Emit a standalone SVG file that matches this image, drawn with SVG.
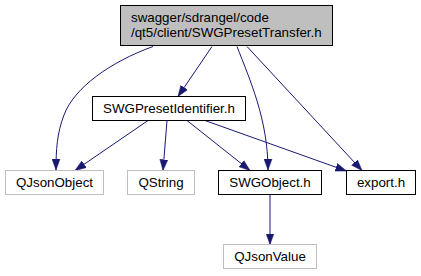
<svg xmlns="http://www.w3.org/2000/svg" width="421" height="276" viewBox="0 0 421 276">
  <style>
    .box { fill: #ffffff; stroke: #000000; stroke-width: 1; }
    .ext { fill: #ffffff; stroke: #bfbfbf; stroke-width: 1; }
    .cur { fill: #bfbfbf; stroke: #000000; stroke-width: 1; }
    text { font-family: "Liberation Sans", Arial, Helvetica, sans-serif; font-size: 13.33px; fill: #000000; }
    .c { text-anchor: middle; }
    .edge { fill: none; stroke: #191970; stroke-width: 1; }
  </style>
  <defs>
    <marker id="arrow" markerUnits="userSpaceOnUse" markerWidth="11" markerHeight="9" refX="11" refY="4.5" orient="auto">
      <path d="M0,0.5 L11,4.5 L0,8.5 z" fill="#191970" stroke="#191970" stroke-width="0.5"/>
    </marker>
  </defs>

  <g id="edges">
    <path class="edge" marker-end="url(#arrow)" d="M153,46.5 C110,62 74,88 64,115 C57,133 56,150 56,170"/>
    <path class="edge" marker-end="url(#arrow)" d="M212,46.5 L178,96.5"/>
    <path class="edge" marker-end="url(#arrow)" d="M237,46.5 C250,80 268,120 268,170"/>
    <path class="edge" marker-end="url(#arrow)" d="M247,46.5 L362,170.5"/>
    <path class="edge" marker-end="url(#arrow)" d="M148,120.5 L75,170.5"/>
    <path class="edge" marker-end="url(#arrow)" d="M167,120.5 L163,170.5"/>
    <path class="edge" marker-end="url(#arrow)" d="M187,120.5 L250,170.5"/>
    <path class="edge" marker-end="url(#arrow)" d="M205,120.5 L346.5,171"/>
    <path class="edge" marker-end="url(#arrow)" d="M270,194.5 L270,244.5"/>
  </g>

  <g id="node_SWGPresetTransfer">
    <rect class="cur" x="120.5" y="5.5" width="212" height="40"/>
    <text x="131" y="21.5">swagger/sdrangel/code</text>
    <text x="131" y="36.5">/qt5/client/SWGPresetTransfer.h</text>
  </g>

  <g id="node_SWGPresetIdentifier">
    <rect class="box" x="92.5" y="96.5" width="153" height="24"/>
    <text class="c" x="169" y="113">SWGPresetIdentifier.h</text>
  </g>

  <g id="node_QJsonObject">
    <rect class="ext" x="5.5" y="170.5" width="98" height="24"/>
    <text class="c" x="54.5" y="187">QJsonObject</text>
  </g>

  <g id="node_QString">
    <rect class="ext" x="127.5" y="170.5" width="67" height="24"/>
    <text class="c" x="161" y="187">QString</text>
  </g>

  <g id="node_SWGObject">
    <rect class="box" x="218.5" y="170.5" width="103" height="24"/>
    <text class="c" x="270" y="187">SWGObject.h</text>
  </g>

  <g id="node_export">
    <rect class="box" x="346.5" y="170.5" width="69" height="24"/>
    <text class="c" x="381" y="187">export.h</text>
  </g>

  <g id="node_QJsonValue">
    <rect class="ext" x="223.5" y="244.5" width="93" height="24"/>
    <text class="c" x="270" y="261">QJsonValue</text>
  </g>
</svg>
